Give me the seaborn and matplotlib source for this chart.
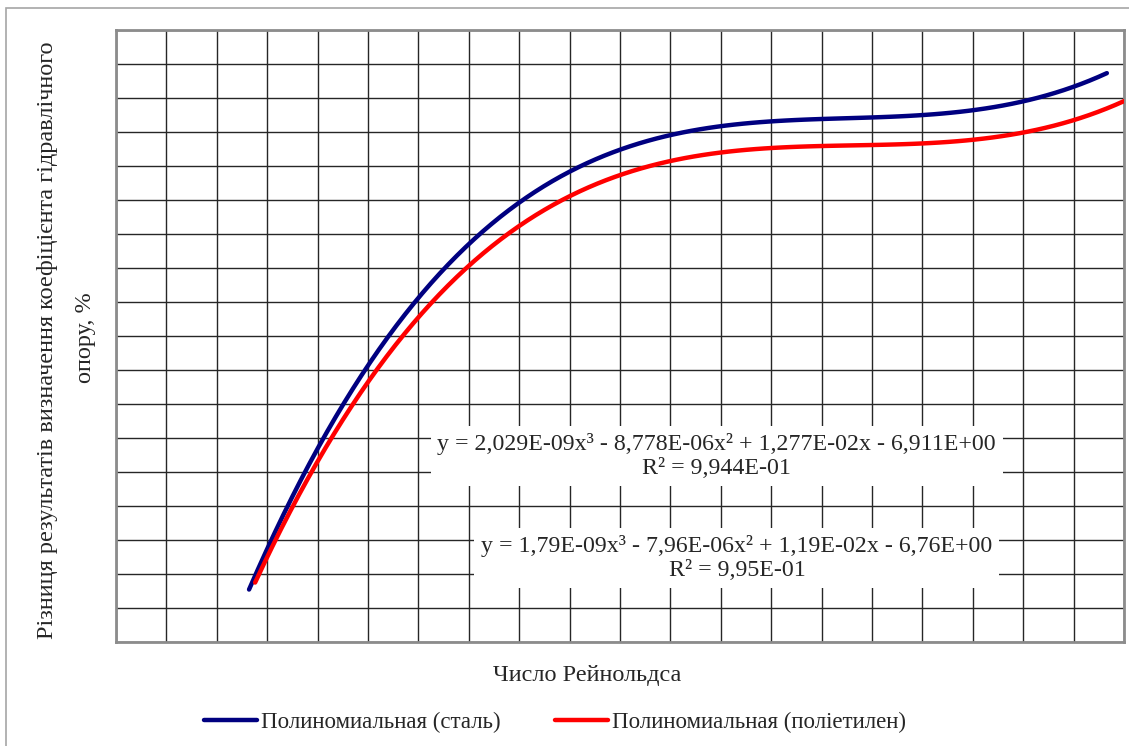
import numpy as np
import pandas as pd
import matplotlib
matplotlib.use("Agg")
import matplotlib.pyplot as plt
from matplotlib.lines import Line2D
from matplotlib.patches import Rectangle
import seaborn as sns

# ---- data (Reynolds number, difference %) ----
steel_re = [264, 278, 304, 335, 371, 409, 450, 498, 544, 597, 657, 716, 796,
            905, 1099, 1401, 1599, 1700, 1817, 1899, 1966]
steel_diff = [-4.13, -4.01, -3.76, -3.51, -3.26, -3.01, -2.76, -2.51, -2.26,
              -2.01, -1.76, -1.51, -1.26, -1.00, -0.75, -0.67, -0.64, -0.60,
              -0.50, -0.42, -0.31]

pe_re = [276, 286, 315, 349, 385, 425, 468, 510, 563, 617, 696, 776, 901,
         1085, 1401, 1599, 1700, 1800, 1899, 2000]
pe_diff = [-4.08, -4.01, -3.76, -3.51, -3.26, -3.01, -2.76, -2.51, -2.26,
           -2.01, -1.76, -1.51, -1.26, -1.00, -0.84, -0.83, -0.79, -0.75,
           -0.66, -0.54]

series_names = ["Полиномиальная (сталь)", "Полиномиальная (поліетилен)"]
eq_steel = "y = 2,029E-09x³ - 8,778E-06x² + 1,277E-02x - 6,911E+00\nR² = 9,944E-01"
eq_pe = "y = 1,79E-09x³ - 7,96E-06x² + 1,19E-02x - 6,76E+00\nR² = 9,95E-01"
x_label = "Число Рейнольдса"
y_label_1 = "Різниця результатів визначення коефіцієнта гідравлічного"
y_label_2 = "опору, %"

x_ticks = np.arange(0, 2001, 100)
y_ticks = np.arange(-4.5, 0.001, 0.25)

# ---- styling ----
sns.set_style("white")
plt.rcParams["font.family"] = ["Liberation Serif", "DejaVu Serif"]
FS = 17.5
FS_EQ = 17.2
FS_LEG = 16.5

W, H = 1129, 746
fig = plt.figure(figsize=(W / 100, H / 100), dpi=100)

# outer chart border
fig.patches.append(Rectangle((6 / W, 0 - 0.01), 1.1, (H - 8) / H + 0.01,
                             transform=fig.transFigure, fill=False,
                             edgecolor="#a6a6a6", linewidth=1.2, zorder=0))

ax = fig.add_axes([116 / W, (H - 642) / H, (1124 - 116) / W, (642 - 30) / H])

colors = ["#000080", "#ff0000"]
for xs, ys, c in [(steel_re, steel_diff, colors[0]), (pe_re, pe_diff, colors[1])]:
    sns.regplot(x=xs, y=ys, order=3, ci=None, scatter=False, truncate=True, ax=ax,
                line_kws=dict(color=c, lw=3.2, solid_capstyle="round", zorder=4))

ax.set_xlim(0, 2000)
ax.set_ylim(-4.5, 0)
ax.set_xticks(x_ticks)
ax.set_yticks(y_ticks)
ax.tick_params(length=0, labelbottom=False, labelleft=False)
ax.grid(True, color="#262626", linewidth=1.0)
ax.set_axisbelow(True)
ax.set_xlabel("")
ax.set_ylabel("")
for sp in ax.spines.values():
    sp.set_visible(True)
    sp.set_color("#8c8c8c")
    sp.set_linewidth(2)

# trendline equation labels
box = dict(facecolor="white", edgecolor="none", pad=5)
ax.text(1192, -3.13, eq_steel, ha="center", va="center", multialignment="center",
        fontsize=FS_EQ, bbox=box, zorder=3, linespacing=1.2)
ax.text(1232, -3.88, eq_pe, ha="center", va="center", multialignment="center",
        fontsize=FS_EQ, bbox=box, zorder=3, linespacing=1.2)

# axis titles
fig.text(587 / W, 1 - 675 / H, x_label, ha="center", va="center", fontsize=FS)
fig.text(48 / W, 1 - 340 / H, y_label_1, ha="center", va="center", rotation=90, fontsize=FS)
fig.text(85 / W, 1 - 338 / H, y_label_2, ha="center", va="center", rotation=90, fontsize=FS)

# legend
handles = [Line2D([0], [0], color=c, lw=3.2, solid_capstyle="round") for c in colors]
fig.legend(handles, series_names, loc="center", bbox_to_anchor=(555 / W, 1 - 722 / H),
           ncol=2, frameon=False, fontsize=FS_LEG, handlelength=2.3, handletextpad=0.17,
           columnspacing=2.4)

fig.savefig("out.png", dpi=100)
